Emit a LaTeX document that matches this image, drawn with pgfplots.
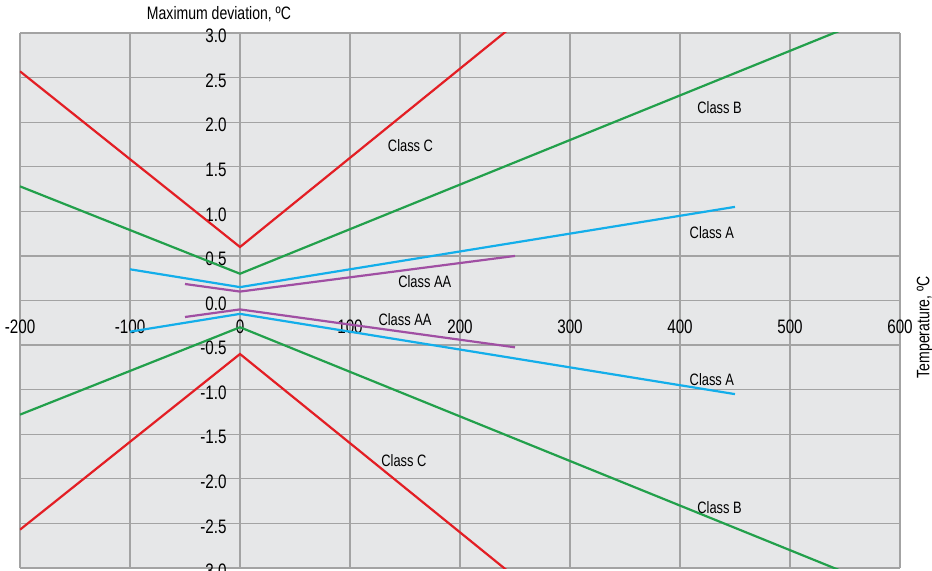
\documentclass[border=0pt]{standalone}
\usepackage{fontspec}
\setmainfont{Liberation Sans}[FakeStretch=0.78]
\usepackage{pgfplots}
\pgfplotsset{compat=1.18}
\definecolor{bgc}{HTML}{E6E7E8}
\definecolor{gridc}{HTML}{A3A3A3}
\definecolor{cC}{HTML}{E31E24}
\definecolor{cB}{HTML}{22A04B}
\definecolor{cA}{HTML}{13AEEA}
\definecolor{cAA}{HTML}{A04FA3}
\newcommand\f{\fontsize{16.5}{19}\selectfont}
\newcommand\fk{\fontsize{19.5}{22}\selectfont}
\newcommand\ft{\fontsize{18}{21}\selectfont}
\begin{document}
\begin{tikzpicture}
\begin{axis}[
  name=ax,
  scale only axis, width=880pt, height=535pt,
  xmin=-200, xmax=600, ymin=-3, ymax=3,
  enlargelimits=false,
  axis lines=middle,
  axis line style={draw=none},
  hide obscured x ticks=false, hide obscured y ticks=false,
  axis background/.style={fill=bgc},
  grid=major, grid style={draw=gridc, line width=1.3pt},
  major tick length=0pt,
  xtick={-200,-100,...,600},
  ytick={-3,-2.5,...,3},
  /pgf/number format/assume math mode=true,
  tick label style={font=\fk},
  yticklabel style={/pgf/number format/fixed, /pgf/number format/fixed zerofill, /pgf/number format/precision=1, xshift=-10pt, yshift=-3pt, anchor=east},
  xticklabel style={/pgf/number format/fixed, /pgf/number format/set thousands separator={}, anchor=north, yshift=-16pt},
  title={Maximum deviation, ºC},
  title style={font=\ft, at={(axis cs:0,3)}, anchor=base, xshift=-21pt, yshift=7pt},
  xlabel={Temperature, ºC},
  xlabel style={font=\ft, at={(rel axis cs:1,0.45)}, rotate=90, anchor=center, yshift=-25pt},
  clip=true,
]
% Class C
\addplot[cC, line width=2.2pt] coordinates {(-200,2.57) (0,0.6) (250,3.1)};
\addplot[cC, line width=2.2pt] coordinates {(-200,-2.57) (0,-0.6) (250,-3.1)};
% Class B
\addplot[cB, line width=2.2pt] coordinates {(-200,1.28) (0,0.3) (560,3.1)};
\addplot[cB, line width=2.2pt] coordinates {(-200,-1.28) (0,-0.3) (560,-3.1)};
% Class A
\addplot[cA, line width=2.2pt] coordinates {(-100,0.35) (0,0.15) (450,1.05)};
\addplot[cA, line width=2.2pt] coordinates {(-100,-0.35) (0,-0.15) (450,-1.05)};
% Class AA
\addplot[cAA, line width=2.2pt] coordinates {(-50,0.185) (0,0.1) (250,0.5)};
\addplot[cAA, line width=2.2pt] coordinates {(-50,-0.185) (0,-0.1) (250,-0.525)};
\node[font=\f] at (axis cs:155,1.74) {Class C};
\node[font=\f] at (axis cs:436,2.16) {Class B};
\node[font=\f] at (axis cs:429,0.76) {Class A};
\node[font=\f] at (axis cs:168,0.21) {Class AA};
\node[font=\f] at (axis cs:150,-0.21) {Class AA};
\node[font=\f] at (axis cs:429,-0.89) {Class A};
\node[font=\f] at (axis cs:149,-1.79) {Class C};
\node[font=\f] at (axis cs:436,-2.32) {Class B};
\end{axis}
\pgfresetboundingbox
\path ([shift={(-20pt,-2pt)}]ax.south west) rectangle ([shift={(32pt,33pt)}]ax.north east);
\end{tikzpicture}
\end{document}
